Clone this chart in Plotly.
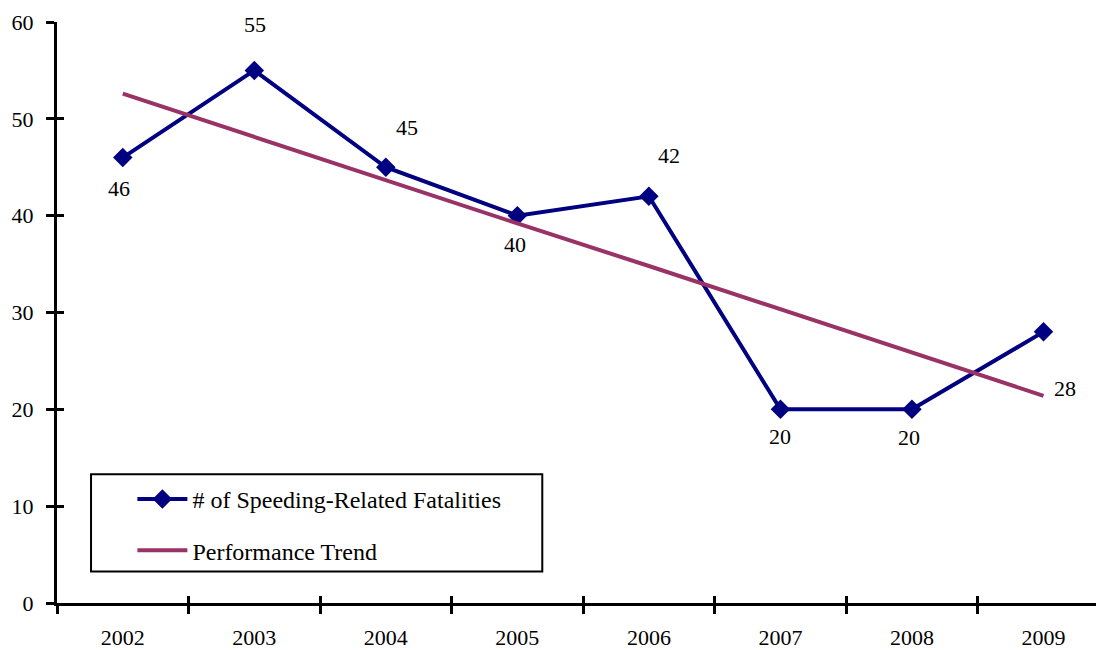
import plotly.graph_objects as go

# data
years = ["2002", "2003", "2004", "2005", "2006", "2007", "2008", "2009"]
fatalities = [46, 55, 45, 40, 42, 20, 20, 28]
trend = [52.6, 48.1, 43.7, 39.2, 34.8, 30.3, 25.9, 21.4]

# label offsets (px) relative to each point, as placed in the original
label_dx = [-4, 1, 21, -2, 20, 0, -3, 22]
label_dy = [-31, 46, 40, -29, 41, -27, -28, -57]

FONT = "Liberation Serif, Times New Roman, serif"
NAVY = "#000080"
PLUM = "#993366"

fig = go.Figure()

fig.add_trace(
    go.Scatter(
        x=years,
        y=fatalities,
        mode="lines+markers",
        name="# of Speeding-Related Fatalities",
        line=dict(color=NAVY, width=4),
        marker=dict(symbol="diamond", size=15, color=NAVY),
        legendgroup="a",
        hoverinfo="x+y",
    )
)
fig.add_trace(
    go.Scatter(
        x=years,
        y=trend,
        mode="lines",
        name="Performance Trend",
        line=dict(color=PLUM, width=4),
        legendgroup="b",
        hoverinfo="skip",
    )
)
# invisible trace carrying the overlay axes (inner half of the crossing ticks)
fig.add_trace(
    go.Scatter(
        x=years,
        y=fatalities,
        xaxis="x2",
        yaxis="y2",
        mode="lines",
        line=dict(width=0),
        showlegend=False,
        hoverinfo="skip",
    )
)

# category index used as x: numeric-looking names get read as indices
for i, (v, dx, dy) in enumerate(zip(fatalities, label_dx, label_dy)):
    fig.add_annotation(
        x=i,
        y=v,
        text=str(v),
        showarrow=False,
        xshift=dx,
        yshift=dy,
        font=dict(family=FONT, size=22, color="black"),
    )

# legend frame (wider than plotly's auto legend box)
fig.add_shape(
    type="rect",
    xref="paper",
    yref="paper",
    x0=0.0325,
    x1=0.4635,
    y0=0.0544,
    y1=0.2216,
    line=dict(color="black", width=2),
    fillcolor="white",
    layer="below",
)

x_range = [-0.5, 7.46]
common_x = dict(
    type="category",
    categoryorder="array",
    categoryarray=years,
    range=x_range,
    tickson="boundaries",
    tickwidth=3,
    tickcolor="black",
    showgrid=False,
    zeroline=False,
)
common_y = dict(
    range=[0, 60],
    tickvals=[0, 10, 20, 30, 40, 50, 60],
    tickwidth=3,
    tickcolor="black",
    showgrid=False,
    zeroline=False,
)

# page body has an 8px margin, so the figure is shrunk by that much
fig.update_layout(
    width=1096,
    height=642,
    margin=dict(l=49, r=0, t=14, b=47),
    paper_bgcolor="white",
    plot_bgcolor="white",
    font=dict(family=FONT, size=22, color="black"),
    xaxis=dict(
        **common_x,
        showline=True,
        linecolor="black",
        linewidth=3,
        ticks="outside",
        ticklen=8,
        ticklabelstandoff=13,
    ),
    yaxis=dict(
        **common_y,
        showline=True,
        linecolor="black",
        linewidth=3,
        ticks="outside",
        ticklen=8,
        ticklabelstandoff=8,
    ),
    xaxis2=dict(
        **common_x,
        overlaying="x",
        anchor="y2",
        ticks="inside",
        ticklen=7,
        showticklabels=False,
        showline=False,
    ),
    yaxis2=dict(
        **common_y,
        overlaying="y",
        anchor="x2",
        side="left",
        ticks="inside",
        ticklen=7,
        showticklabels=False,
        showline=False,
    ),
    legend=dict(
        x=0.072,
        y=0.217,
        xanchor="left",
        yanchor="top",
        bgcolor="rgba(0,0,0,0)",
        borderwidth=0,
        font=dict(family=FONT, size=24, color="black"),
        tracegroupgap=17,
        traceorder="grouped",
        itemwidth=50,
    ),
    showlegend=True,
)

fig.write_html("out.html")
